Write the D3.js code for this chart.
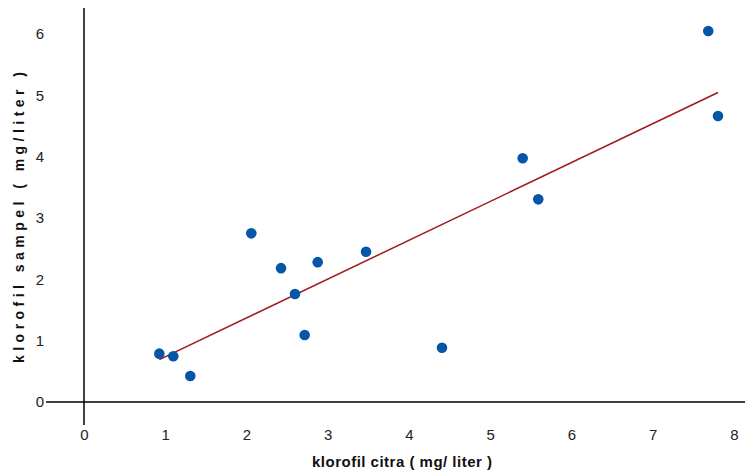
<!DOCTYPE html>
<html><head><meta charset="utf-8">
<script src="https://cdn.jsdelivr.net/npm/d3@7"></script>
<style>body{margin:0;background:#fff}svg{display:block}</style>
</head><body>
<svg id="c" width="745" height="472"></svg>
<script>
const xValues = [0.927, 1.099, 1.308, 2.059, 2.425, 2.876, 2.597, 2.716, 3.471, 4.406, 5.399, 5.591, 7.683, 7.803];
const yValues = [0.788, 0.745, 0.424, 2.750, 2.182, 2.280, 1.761, 1.092, 2.450, 0.885, 3.973, 3.304, 6.050, 4.663];
const xTicks = [0,1,2,3,4,5,6,7,8];
const yTicks = [0,1,2,3,4,5,6];
const xTitle = "klorofil citra ( mg/ liter )";
const yTitle = "klorofil sampel ( mg/liter )";

const svg = d3.select("#c");
const x = d3.scaleLinear().domain([0,8]).range([84,734]);
const y = d3.scaleLinear().domain([0,6]).range([402,34]);
const pts = xValues.map((v,i)=>({x:v,y:yValues[i]}));

// regression
const mx = d3.mean(xValues), my = d3.mean(yValues);
const sxy = d3.sum(pts, p=>(p.x-mx)*(p.y-my)), sxx = d3.sum(pts, p=>(p.x-mx)**2);
const b = sxy/sxx, a = my - b*mx;
const [x0,x1] = d3.extent(xValues);

// axes lines
svg.append("line").attr("x1",x(0)).attr("x2",x(0)).attr("y1",8).attr("y2",425)
  .attr("stroke","#000").attr("stroke-width",1.5);
svg.append("line").attr("x1",46).attr("x2",745).attr("y1",y(0)).attr("y2",y(0))
  .attr("stroke","#000").attr("stroke-width",1.5);

// axis tick labels via d3 axes (no tick lines)
const xa = svg.append("g").attr("transform",`translate(0,${y(0)})`)
  .call(d3.axisBottom(x).tickValues(xTicks).tickSize(0).tickPadding(27).tickFormat(d3.format("d")));
xa.select(".domain").remove();
xa.selectAll("text").attr("font-family","'Liberation Sans',Arial,sans-serif")
  .attr("font-size",15).attr("fill","#222");
const ya = svg.append("g").attr("transform",`translate(46,0)`)
  .call(d3.axisLeft(y).tickValues(yTicks).tickSize(0).tickPadding(2).tickFormat(d3.format("d")));
ya.select(".domain").remove();
ya.selectAll("text").attr("font-family","'Liberation Sans',Arial,sans-serif")
  .attr("font-size",15).attr("fill","#222");

// trend line
svg.append("line").attr("x1",x(x0)).attr("y1",y(a+b*x0)).attr("x2",x(x1)).attr("y2",y(a+b*x1))
  .attr("stroke","#a0191b").attr("stroke-width",1.5);

// points
svg.selectAll("circle.p").data(pts).join("circle").attr("class","p")
  .attr("cx",d=>x(d.x)).attr("cy",d=>y(d.y)).attr("r",5.3).attr("fill","#0656a8");

// titles
svg.append("text").attr("x",402).attr("y",467).attr("text-anchor","middle")
  .attr("font-family","'Liberation Sans',Arial,sans-serif")
  .attr("textLength",180).attr("lengthAdjust","spacing")
  .attr("font-weight","bold").attr("font-size",15).attr("fill","#111").text(xTitle);
svg.append("text").attr("transform","translate(24,217.5) rotate(-90)").attr("text-anchor","middle")
  .attr("font-family","'Liberation Sans',Arial,sans-serif")
  .attr("textLength",291).attr("lengthAdjust","spacing")
  .attr("font-weight","bold").attr("font-size",14).attr("fill","#111").text(yTitle);
</script>
</body></html>
